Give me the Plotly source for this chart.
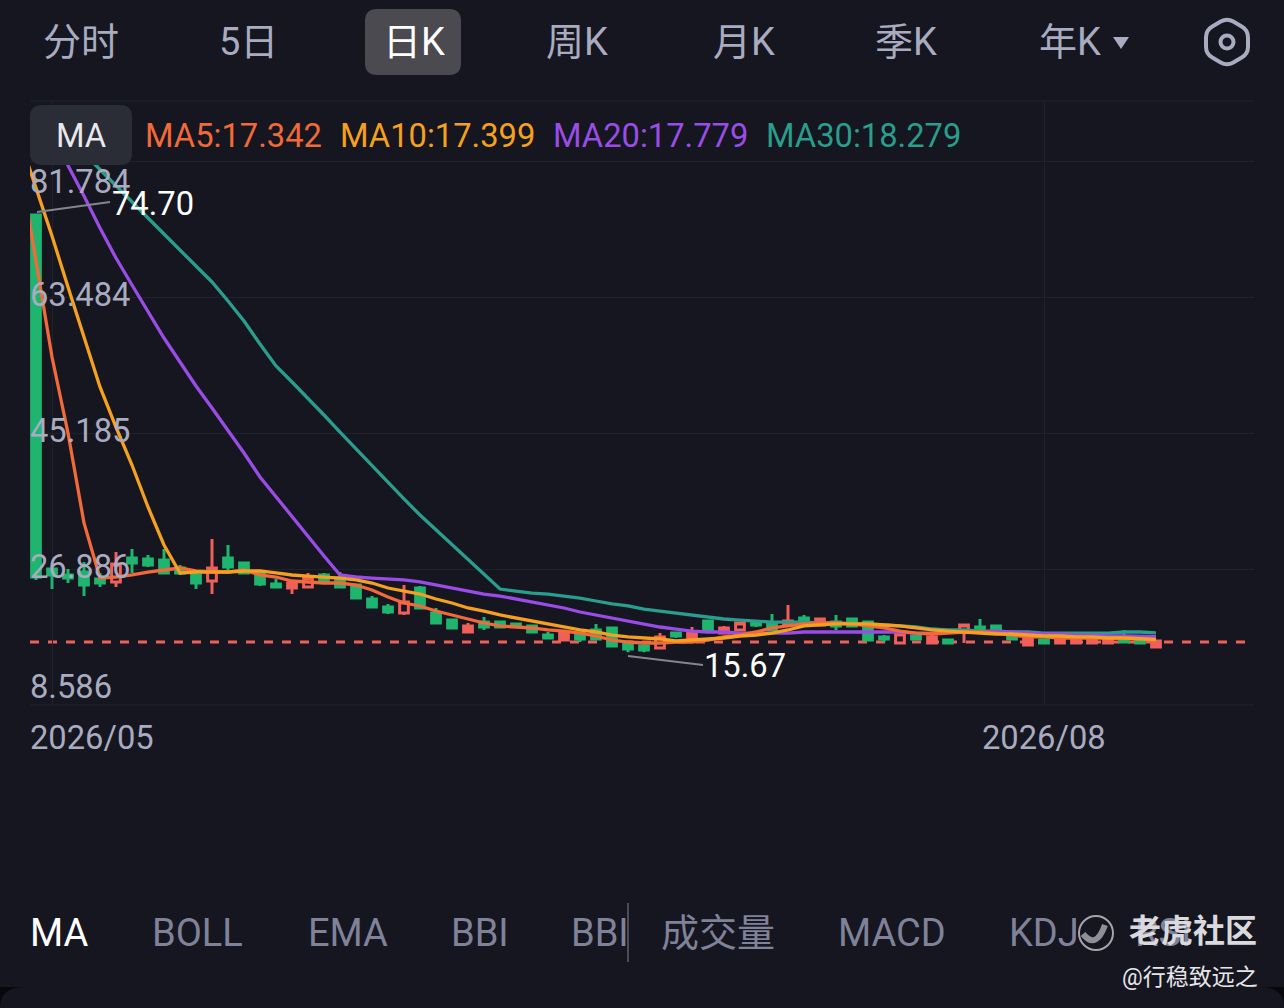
import plotly.graph_objects as go

W = 1284
H = 1008

# candles, one row per trading day: g = green, f = red filled, h = red hollow
kinds = ["g","g","g","g","g","h","g","g","g","g","g","h","g","g","g","g","f","h","g","g",
         "g","g","g","h","g","g","g","f","g","g","g","g","g","f","g","g","g","g","g","h",
         "g","f","g","f","h","g","g","f","g","f","g","g","g","g","h","g","f","g","h","g",
         "g","g","f","g","f","f","f","f","g","g","f"]
opens = [74.52,26.89,26.08,26.48,25.54,25.14,28.37,28.23,28.10,27.02,26.08,25.27,28.37,27.69,26.35,24.87,24.33,24.46,26.08,25.67,
         24.73,22.85,21.77,20.97,24.33,20.97,20.02,18.41,19.75,19.75,19.49,19.22,18.00,17.33,18.27,18.68,18.95,16.79,16.53,16.26,
         18.27,17.33,19.89,18.27,18.68,19.62,19.62,19.35,20.29,19.35,19.75,20.16,19.75,17.74,16.93,17.87,16.93,17.33,18.54,19.08,
         19.22,18.27,16.66,17.33,16.93,16.93,16.93,16.93,17.33,17.33,16.39]
closes = [25.81,26.08,25.67,24.73,25.00,27.56,27.69,27.42,26.35,26.35,25.00,27.02,27.15,26.35,24.87,24.46,25.00,25.67,25.14,24.46,
          22.98,21.77,21.10,22.45,21.64,19.62,18.95,19.22,19.08,19.08,19.22,18.41,17.60,18.27,17.47,17.47,16.53,16.12,15.99,17.74,
          17.87,18.27,18.68,18.95,19.62,19.35,18.68,19.89,19.49,20.16,19.22,19.22,17.33,17.47,18.14,17.47,17.74,16.93,19.35,18.41,
          18.27,17.47,17.47,16.93,17.47,17.33,17.33,17.33,17.06,16.93,17.20]
highs = [74.70,27.02,26.89,27.83,26.35,29.17,29.58,28.77,29.58,27.42,26.35,30.92,30.12,27.83,26.48,25.54,25.00,26.35,26.35,26.48,
         24.87,23.25,22.18,24.73,24.60,21.64,20.16,19.62,20.43,19.89,19.62,19.35,18.41,18.41,18.41,19.49,19.08,16.93,16.66,18.27,
         18.41,19.08,20.02,19.22,19.75,19.75,20.83,22.04,20.70,20.16,20.70,20.29,19.89,18.00,18.27,18.00,18.14,17.47,19.49,20.16,
         19.35,18.41,17.60,17.47,17.47,17.33,17.33,17.33,18.68,17.33,17.33]
lows = [25.41,24.19,25.00,23.25,24.46,24.46,26.35,27.15,26.21,26.08,24.19,23.52,26.75,26.21,24.60,24.33,23.52,24.33,25.00,24.33,
        22.85,21.64,20.83,20.70,21.50,19.49,18.81,18.27,18.68,18.95,19.08,18.41,17.60,17.33,17.06,17.33,16.53,15.67,15.70,16.26,
        17.60,17.33,18.54,18.27,18.54,19.08,18.54,19.22,19.35,19.35,18.68,19.08,17.33,17.06,16.93,17.33,16.93,16.79,16.93,18.27,
        18.14,17.33,16.66,16.93,16.93,16.93,16.93,16.93,16.93,16.93,16.39]

# moving averages, ma5/ma10 start one day left of the visible window, ma20/ma30 under the MA button
ma5 = [81.25,68.06,55.41,45.19,33.08,25.67,25.81,26.08,26.48,26.75,27.02,26.62,26.48,26.48,26.75,26.08,25.81,25.27,25.14,25.00,
       25.00,24.73,24.06,23.12,22.31,21.91,21.23,20.70,20.16,19.62,19.22,19.08,18.95,18.68,18.54,18.27,17.87,17.33,17.06,16.93,
       16.93,17.06,17.06,17.33,17.74,18.00,18.41,18.95,19.22,19.49,19.62,19.62,19.49,19.22,18.95,18.54,18.27,18.14,18.27,18.41,
       18.41,18.27,18.00,17.74,17.74,17.60,17.60,17.60,17.60,17.60,17.47,17.342]
ma10 = [84.61,78.15,71.70,64.83,58.10,51.38,45.99,40.88,35.23,30.12,26.35,26.48,26.48,26.48,26.62,26.62,26.35,26.08,25.94,25.81,
        25.67,25.41,25.00,24.33,23.92,23.52,22.85,22.31,21.64,21.23,20.70,20.29,19.89,19.49,19.08,18.68,18.41,18.00,17.74,17.60,
        17.47,17.20,17.33,17.47,17.60,17.87,18.00,18.27,18.68,19.22,19.35,19.49,19.49,19.49,19.35,19.22,18.95,18.68,18.54,18.41,
        18.27,18.14,18.14,18.00,17.87,17.87,17.74,17.74,17.60,17.60,17.47,17.399]
ma20 = [85.29,81.25,77.08,72.77,68.73,65.10,61.60,57.97,54.74,51.51,48.55,45.59,42.49,39.27,36.57,33.88,31.19,28.64,26.08,
        25.81,25.67,25.54,25.41,25.14,24.73,24.33,23.92,23.52,23.25,22.85,22.45,22.04,21.64,21.10,20.70,20.29,19.89,19.49,19.08,
        18.81,18.54,18.41,18.41,18.27,18.27,18.27,18.27,18.41,18.41,18.41,18.41,18.41,18.41,18.41,18.27,18.27,18.41,18.41,18.41,
        18.54,18.41,18.27,18.14,18.14,18.00,18.00,17.87,17.87,17.87,17.779]
ma30 = [87.17,85.02,82.86,80.57,78.42,76.27,74.12,71.96,69.81,67.66,65.51,62.95,60.26,57.16,54.20,52.05,49.90,47.61,45.32,
        43.03,40.75,38.46,36.31,34.15,32.13,30.12,28.10,26.08,24.19,23.92,23.65,23.52,23.25,22.98,22.58,22.18,21.91,21.50,21.23,
        20.97,20.70,20.43,20.16,20.02,19.89,19.75,19.75,19.75,19.62,19.62,19.49,19.49,19.35,19.22,19.08,18.81,18.68,18.68,18.54,
        18.54,18.41,18.41,18.27,18.27,18.27,18.27,18.27,18.41,18.41,18.279]

price_ticks = [81.784, 63.484, 45.185, 26.886, 8.586]
price_top = 89.86
last_price = 17.06
date_ticks = [1, 63]
date_labels = ["2026/05", "2026/08"]
period_tabs = ["分时", "5日", "日K", "周K", "月K", "季K", "年K"]
indicator_tabs = ["MA", "BOLL", "EMA", "BBI", "BBI", "成交量", "MACD", "KDJ", "RSI"]
ma_labels = ["MA5:17.342", "MA10:17.399", "MA20:17.779", "MA30:18.279"]

BG = "#15161f"
GRID = "#20212b"
GREEN = "#1fb56f"
RED = "#f0605a"
ORANGE_RED = "#f2693a"
ORANGE = "#f5a01e"
PURPLE = "#9a4de6"
TEAL = "#2a9d8c"
LABEL = "#a9acc0"
MUTED = "#7f8299"
FONT = "Roboto, 'Noto Sans CJK SC', sans-serif"


def px(x):
    return x / W


def py(y):
    return 1 - y / H


def round_rect(x0, y0, x1, y1, r):
    p = [(x0 + r, y0), (x1 - r, y0), (x1, y0), (x1, y0 + r), (x1, y1 - r), (x1, y1),
         (x1 - r, y1), (x0 + r, y1), (x0, y1), (x0, y1 - r), (x0, y0 + r), (x0, y0), (x0 + r, y0)]
    s = [f"{px(a)},{py(b)}" for a, b in p]
    return (f"M {s[0]} L {s[1]} Q {s[2]} {s[3]} L {s[4]} Q {s[5]} {s[6]} L {s[7]} "
            f"Q {s[8]} {s[9]} L {s[10]} Q {s[11]} {s[12]} Z")


def poly(points):
    s = [f"{px(a)},{py(b)}" for a, b in points]
    return "M " + " L ".join(s) + " Z"


def round_poly(points, f=0.3):
    # polygon with its corners cut by a quadratic curve
    n = len(points)
    parts = []
    for i in range(n):
        ax, ay = points[i - 1]
        bx, by = points[i]
        cx, cy = points[(i + 1) % n]
        inx, iny = bx + (ax - bx) * f, by + (ay - by) * f
        outx, outy = bx + (cx - bx) * f, by + (cy - by) * f
        cmd = "M" if i == 0 else "L"
        parts.append(f"{cmd} {px(inx)},{py(iny)} Q {px(bx)},{py(by)} {px(outx)},{py(outy)}")
    return " ".join(parts) + " Z"


def candle_trace(kind, color, fill):
    idx = [i for i, k in enumerate(kinds) if k == kind]
    side = dict(line=dict(color=color, width=3), fillcolor=fill)
    return go.Candlestick(
        x=idx,
        open=[opens[i] for i in idx],
        high=[highs[i] for i in idx],
        low=[lows[i] for i in idx],
        close=[closes[i] for i in idx],
        increasing=side,
        decreasing=side,
        whiskerwidth=0,
        showlegend=False,
    )


fig = go.Figure()
fig.add_trace(candle_trace("g", GREEN, GREEN))
fig.add_trace(candle_trace("f", RED, RED))
fig.add_trace(candle_trace("h", RED, BG))

for vals, color, start in [(ma30, TEAL, 1), (ma20, PURPLE, 1), (ma5, ORANGE_RED, -1), (ma10, ORANGE, -1)]:
    fig.add_trace(go.Scatter(
        x=list(range(start, start + len(vals))), y=vals, mode="lines",
        line=dict(color=color, width=3.3), showlegend=False,
    ))


def text(x, y, s, color=LABEL, size=32.7, anchor="left", xref="paper", bold=False):
    fig.add_annotation(
        x=x, y=py(y), xref=xref, yref="paper", text=f"<b>{s}</b>" if bold else s,
        showarrow=False, xanchor=anchor, yanchor="middle", borderpad=0, borderwidth=0,
        font=dict(family=FONT, size=size, color=color),
    )


# top tabs
for s, cx in zip(period_tabs, [81, 248, 414, 577, 744, 906, 1070]):
    text(px(cx), 42, s, color="#ffffff" if s == "日K" else LABEL, size=38, anchor="center")

# y labels sit inside the plot
for s, yy in zip(price_ticks, [182, 295, 431, 567, 687]):
    text(px(30), yy, f"{s:.3f}")

# x labels
text(px(30), 738, date_labels[0])
text(date_ticks[1], 738, date_labels[1], anchor="center", xref="x")

# MA legend row
text(px(81), 136, "MA", color="#e8e8ee", anchor="center")
for s, xx, c in zip(ma_labels, [145, 340, 553, 766], [ORANGE_RED, ORANGE, PURPLE, TEAL]):
    text(px(xx), 136, s, color=c)

# high / low callouts
text(px(112), 204, f"{highs[0]:.2f}", color="#ffffff")
text(px(704), 666, f"{lows[37]:.2f}", color="#ffffff")

# bottom tabs
for s, xx in zip(indicator_tabs, [30, 152, 308, 451, 571, 661, 838, 1009, 1135]):
    text(px(xx), 933, s, color="#ffffff" if xx == 30 else MUTED, size=38)

# watermark
text(px(1129), 931, "老虎社区", color="#d9d9de", size=32, bold=True)
text(px(1258), 977, "@行稳致远之", color="#e6e6ea", size=23, anchor="right")

shapes = [
    dict(type="path", path=round_rect(365, 9, 461, 75, 12), fillcolor="#4a4a50", line_width=0, layer="below"),
    dict(type="path", path=round_rect(30, 105, 132, 165, 12), fillcolor="#2a2c36", line_width=0),
    dict(type="path", path=poly([(1113, 37), (1129, 37), (1121, 49)]), fillcolor=LABEL, line_width=0),
    # settings icon
    dict(type="path", path=round_poly([(1227, 18), (1248, 30), (1248, 54), (1227, 66), (1206, 54), (1206, 30)]),
         line=dict(color=LABEL, width=4), fillcolor="rgba(0,0,0,0)"),
    dict(type="circle", x0=px(1220.5), x1=px(1233.5), y0=py(35.5), y1=py(48.5), line=dict(color=LABEL, width=4)),
    # top and bottom border of the plot
    dict(type="line", x0=px(30), x1=px(1254), y0=py(101), y1=py(101), line=dict(color=GRID, width=1), layer="below"),
    dict(type="line", x0=px(30), x1=px(1254), y0=py(705), y1=py(705), line=dict(color=GRID, width=1), layer="below"),
    # callout leaders
    dict(type="line", x0=px(37), x1=px(110), y0=py(212), y1=py(202), line=dict(color="#85858f", width=2)),
    dict(type="line", x0=px(628), x1=px(703), y0=py(656), y1=py(665), line=dict(color="#85858f", width=2)),
    # divider in the indicator row
    dict(type="line", x0=px(628), x1=px(628), y0=py(903), y1=py(962), line=dict(color="#4a4c58", width=2)),
    # watermark logo
    dict(type="circle", x0=px(1079), x1=px(1113), y0=py(916), y1=py(950), line=dict(color="#a5a5ac", width=2)),
    dict(type="path", path=f"M {px(1083)},{py(934)} Q {px(1096)},{py(950)} {px(1105)},{py(925)}",
         line=dict(color="#8f8f96", width=6)),
    # last price line
    dict(type="line", x0=px(30), x1=px(1246), y0=last_price, y1=last_price, xref="paper", yref="y",
         line=dict(color=RED, width=3, dash="9px,9px"), layer="below"),
    # dark rounded corners at the very bottom
    dict(type="path", path=f"M {px(0)},{py(987)} L {px(24)},{py(987)} Q {px(0)},{py(987)} {px(0)},{py(1008)} Z",
         fillcolor="#08080c", line_width=0),
    dict(type="path", path=f"M {px(1284)},{py(987)} L {px(1260)},{py(987)} Q {px(1284)},{py(987)} {px(1284)},{py(1008)} Z",
         fillcolor="#08080c", line_width=0),
]
for s in shapes:
    s.setdefault("xref", "paper")
    s.setdefault("yref", "paper")

fig.update_layout(
    width=W,
    height=H,
    autosize=False,
    margin=dict(l=0, r=0, t=0, b=0),
    paper_bgcolor=BG,
    plot_bgcolor=BG,
    shapes=shapes,
    showlegend=False,
    boxgap=0.22,
    boxmode="overlay",
    xaxis=dict(
        domain=[px(30), px(1254)],
        range=[-0.375, 76.125],
        rangeslider=dict(visible=False),
        tickvals=date_ticks,
        showticklabels=False,
        showgrid=True,
        gridcolor=GRID,
        gridwidth=1,
        zeroline=False,
        showline=False,
        ticks="",
    ),
    yaxis=dict(
        domain=[py(705), py(101)],
        range=[price_ticks[-1], price_top],
        tickvals=price_ticks,
        showticklabels=False,
        showgrid=True,
        gridcolor=GRID,
        gridwidth=1,
        zeroline=False,
        showline=False,
        ticks="",
    ),
)

fig.write_html(
    "out.html",
    config={"displayModeBar": False},
    post_script="document.body.style.margin='0';document.body.style.overflow='hidden';",
)
